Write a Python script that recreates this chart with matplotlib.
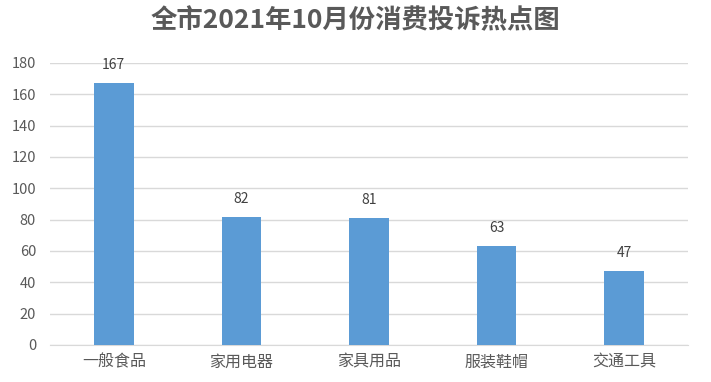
import matplotlib
matplotlib.use("Agg")
import matplotlib.pyplot as plt

plt.rcParams['font.family'] = ['Noto Sans CJK SC', 'DejaVu Sans']

categories = ["一般食品", "家用电器", "家具用品", "服装鞋帽", "交通工具"]
values = [167, 82, 81, 63, 47]
yticks = [0, 20, 40, 60, 80, 100, 120, 140, 160, 180]
title = "全市2021年10月份消费投诉热点图"

fig = plt.figure(figsize=(7.11, 3.82), dpi=100)
ax = fig.add_axes([0.0703, 0.0969, 0.8974, 0.7382])

x = list(range(len(categories)))
bars = ax.bar(x, values, width=0.31, color="#5b9bd5", zorder=3)
for xi, v in zip(x, values):
    ax.text(xi, v + 7, str(v), ha="center", va="bottom", fontsize=10,
            fontweight="medium", color="#404040")

ax.set_xlim(-0.5, len(categories) - 0.5)
ax.set_ylim(0, 180)
ax.set_yticks(yticks)
ax.set_yticklabels([str(t) for t in yticks], fontsize=10.5, color="#595959")
ax.set_xticks(x)
ax.set_xticklabels(categories, fontsize=11.5, color="#595959")
ax.tick_params(axis="both", length=0)
ax.tick_params(axis="y", pad=10)
ax.tick_params(axis="x", pad=6)
ax.grid(axis="y", color="#d9d9d9", linewidth=1, zorder=0)
for s in ["top", "right", "left"]:
    ax.spines[s].set_visible(False)
ax.spines["bottom"].set_color("#d9d9d9")

fig.text(0.5, 0.945, title, ha="center", va="center", fontsize=19,
         fontweight="bold", color="#595959")

fig.savefig("out.png", dpi=100)
